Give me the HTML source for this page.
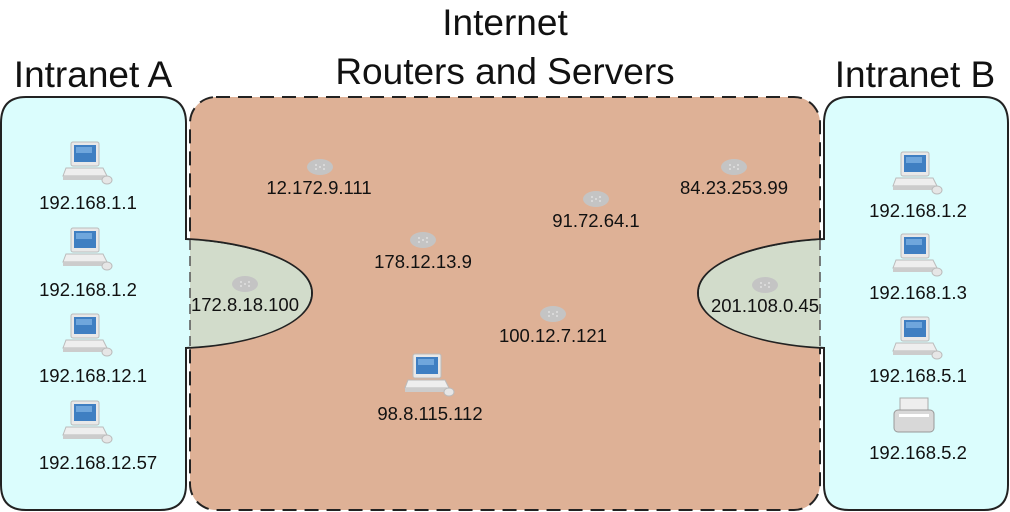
<!DOCTYPE html>
<html><head><meta charset="utf-8"><style>
html,body{margin:0;padding:0;background:#fff;}
svg{display:block;font-family:"Liberation Sans",sans-serif;}
</style></head><body>
<svg width="1010" height="512" viewBox="0 0 1010 512" xmlns="http://www.w3.org/2000/svg">
<defs>
<symbol id="pc" viewBox="0 0 50 46" overflow="visible">
<rect x="8" y="2" width="28" height="24" rx="2" fill="#e8e8e8" stroke="#bbb"/>
<rect x="11" y="5" width="22" height="17" fill="#3f7fc2"/>
<rect x="13" y="7" width="16" height="6" fill="#6fa6dc"/>
<path d="M3 28 H40 L44 36 H0 Z" fill="#eee" stroke="#bbb"/>
<rect x="0" y="36" width="44" height="4" fill="#ccc"/>
<ellipse cx="44" cy="40" rx="5" ry="4" fill="#e6e6e6" stroke="#bbb"/>
</symbol>
<symbol id="rt" viewBox="0 0 28 18" overflow="visible">
<ellipse cx="14" cy="9" rx="13" ry="8" fill="#c4c4c4"/>
<circle cx="10" cy="7" r="1" fill="#e0e0e0"/><circle cx="18" cy="7" r="1" fill="#e0e0e0"/>
<circle cx="10" cy="11" r="1" fill="#e0e0e0"/><circle cx="18" cy="11" r="1" fill="#e0e0e0"/>
<circle cx="14" cy="9" r="1" fill="#e0e0e0"/>
</symbol>
</defs>
<rect x="190" y="97" width="630" height="413" rx="26" fill="#deb196" stroke="#222" stroke-width="2" stroke-dasharray="14,8"/>
<path d="M26 97 H160 Q186 97 186 123 V239 C250 242 312 262 312 293 C312 325 250 345 186 348 V485 Q186 510 160 510 H26 Q1 510 1 485 V123 Q1 97 26 97 Z" fill="#dbfdfd" stroke="#222" stroke-width="2"/>
<path d="M190 240 C250 244 311 262 311 293 C311 325 250 344 190 347 Z" fill="#d2dccb"/>
<line x1="190" y1="240" x2="190" y2="347" stroke="#555" stroke-width="1.5" stroke-dasharray="10,6"/>
<path d="M849 97 H984 Q1008 97 1008 123 V485 Q1008 510 984 510 H849 Q824 510 824 485 V348 C760 345 698 325 698 293 C698 262 760 242 824 239 V123 Q824 97 849 97 Z" fill="#dbfdfd" stroke="#222" stroke-width="2"/>
<path d="M820 240 C760 244 699 262 699 293 C699 325 760 344 820 347 Z" fill="#d2dccb"/>
<line x1="820" y1="240" x2="820" y2="347" stroke="#555" stroke-width="1.5" stroke-dasharray="10,6"/>
<g font-size="37" fill="#111" text-anchor="middle">
<text x="93" y="87">Intranet A</text>
<text x="505" y="35">Internet</text>
<text x="505" y="84">Routers and Servers</text>
<text x="915" y="87">Intranet B</text>
</g>
<use href="#pc" x="63" y="140" width="50" height="46"/>
<use href="#pc" x="63" y="226" width="50" height="46"/>
<use href="#pc" x="63" y="312" width="50" height="46"/>
<use href="#pc" x="63" y="399" width="50" height="46"/>
<use href="#pc" x="405" y="352" width="50" height="46"/>
<use href="#pc" x="893" y="150" width="50" height="46"/>
<use href="#pc" x="893" y="232" width="50" height="46"/>
<use href="#pc" x="893" y="315" width="50" height="46"/>
<g transform="translate(894,398)">
<rect x="6" y="0" width="28" height="14" fill="#eee" stroke="#aaa"/>
<rect x="0" y="12" width="40" height="22" rx="4" fill="#d8d8d8" stroke="#999"/>
<rect x="5" y="16" width="30" height="3" fill="#fff"/>
</g>
<use href="#rt" x="306" y="158" width="28" height="18"/>
<use href="#rt" x="409" y="231" width="28" height="18"/>
<use href="#rt" x="231" y="275" width="28" height="18"/>
<use href="#rt" x="582" y="190" width="28" height="18"/>
<use href="#rt" x="720" y="158" width="28" height="18"/>
<use href="#rt" x="539" y="305" width="28" height="18"/>
<use href="#rt" x="751" y="276" width="28" height="18"/>
<g font-size="18.5" fill="#111" text-anchor="middle">
<text x="88" y="209">192.168.1.1</text>
<text x="88" y="296">192.168.1.2</text>
<text x="93" y="382">192.168.12.1</text>
<text x="98" y="469">192.168.12.57</text>
<text x="319" y="194">12.172.9.111</text>
<text x="423" y="268">178.12.13.9</text>
<text x="245" y="311">172.8.18.100</text>
<text x="596" y="227">91.72.64.1</text>
<text x="734" y="194">84.23.253.99</text>
<text x="553" y="342">100.12.7.121</text>
<text x="430" y="420">98.8.115.112</text>
<text x="765" y="312">201.108.0.45</text>
<text x="918" y="217">192.168.1.2</text>
<text x="918" y="299">192.168.1.3</text>
<text x="918" y="382">192.168.5.1</text>
<text x="918" y="459">192.168.5.2</text>
</g>
</svg>
</body></html>
